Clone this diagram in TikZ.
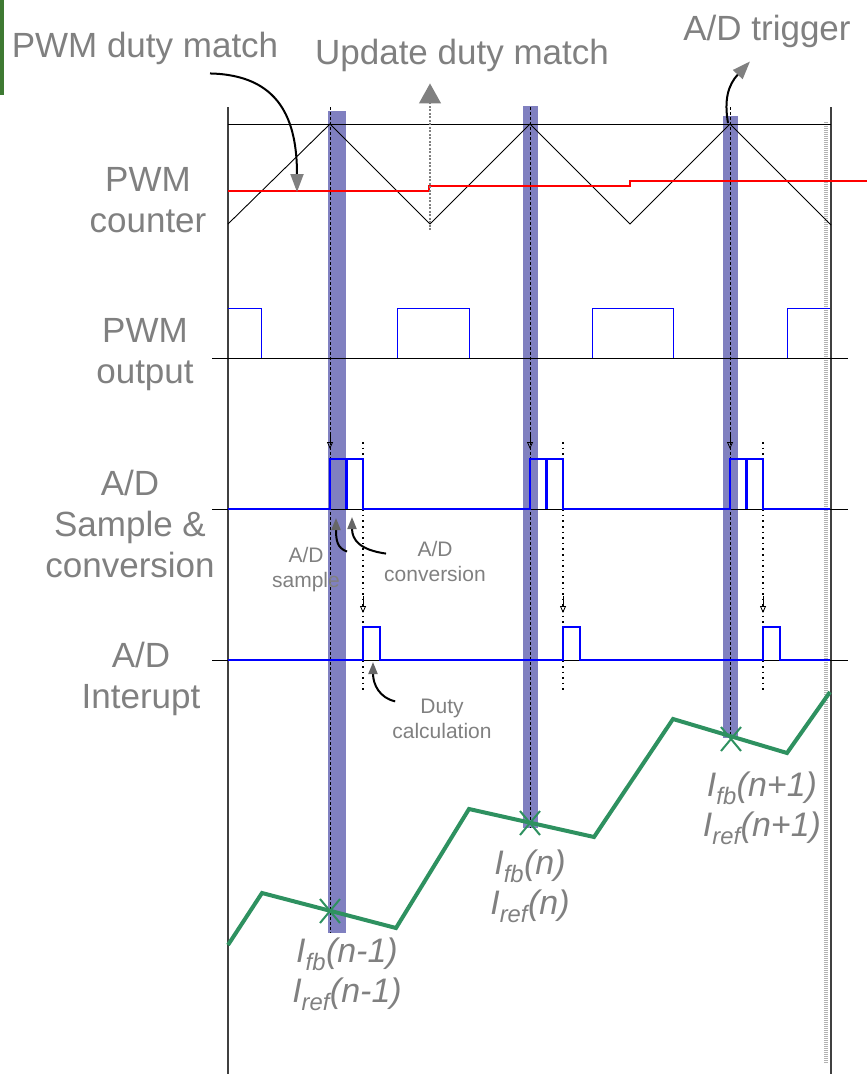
\documentclass[tikz,border=0pt]{standalone}
\usepackage{fontspec}
\setmainfont{Liberation Sans}
\usepackage{tikz}
\usetikzlibrary{calc}
\usetikzlibrary{positioning}
\usetikzlibrary{arrows.meta}
\definecolor{barblue}{RGB}{128,128,192}
\definecolor{txtgray}{RGB}{128,128,128}
\definecolor{currgreen}{RGB}{46,145,96}
\definecolor{tabgreen}{RGB}{62,122,50}

\tikzset{
  biglbl/.style={text=txtgray, inner sep=0pt, align=center,
    font=\fontsize{35}{41}\selectfont},
  smalllbl/.style={text=txtgray, inner sep=0pt, align=center,
    font=\fontsize{21}{25}\selectfont},
  currlbl/.style={text=txtgray, inner sep=0pt, align=center,
    font=\fontsize{34}{40}\selectfont\itshape},
  axisline/.style={draw=black!75, line width=1.2pt},
  thinline/.style={draw=black, line width=0.9pt},
  pwmsig/.style={draw=blue, line width=1pt},
  adsig/.style={draw=blue, line width=2.6pt},
  trigline/.style={draw=black, line width=0.8pt, dash pattern=on 3pt off 2pt},
  doneline/.style={draw=black, line width=1.6pt, dash pattern=on 1.6pt off 4pt},
  trigtip/.style={draw=black, line width=0.8pt, -{Triangle[open, length=7pt, width=6pt]}},
  notearrow/.style={draw=black, line width=2pt, -{Triangle[color=txtgray, length=18pt, width=13pt]}},
  smallnote/.style={draw=black, line width=2pt, -{Triangle[color=txtgray!80!black, length=12pt, width=9pt]}},
  updarrow/.style={draw=txtgray, line width=1.2pt, dash pattern=on 2pt off 1.5pt, -{Triangle[color=txtgray, length=20pt, width=22pt]}},
  currline/.style={draw=currgreen, line width=4pt},
  sampmark/.style={draw=currgreen, line width=2pt},
}

\begin{document}
\begin{tikzpicture}[x=1pt, y=-1pt]
    \useasboundingbox (0,0) rectangle (867,1074);
    \fill[tabgreen] (0,0) rectangle (4,95);

    \foreach \xl/\xr/\yt/\yb in {328/346/111/933, 523/538/106/828, 723/738/116/738}{
      \fill[barblue] (\xl,\yt) rectangle (\xr,\yb);
    }

    \draw[axisline] (228,107) -- (228,1074);
    \draw[gray!60, line width=4.5pt, dash pattern=on 1pt off 1pt] (826,122) -- (826,1063);
    \draw[axisline] (831,107) -- (831,1074);

    \draw[thinline] (228,124) -- (831,124);
    \coordinate (valley1) at (430,230);
    \draw[thinline] (228,224) -- (330,124) -- (430,224) -- (530,124)
      -- (630,224) -- (730,124) -- (831,225);
    \draw[red, line width=1.3pt] (228,191) -- (429,191) -- (429,186)
      -- (630,186) -- (630,181) -- (867,181);

    \foreach \y in {358,509,660}{
      \draw[thinline] (212,\y) -- (848,\y);
    }
    \draw[pwmsig] (228,308) -- (261,308) -- (261,358);
    \foreach \a/\b in {397/469, 592/673}{
      \draw[pwmsig] (\a,358) -- (\a,308) -- (\b,308) -- (\b,358);
    }
    \draw[pwmsig] (787,358) -- (787,308) -- (830,308);

    \foreach \xs/\yb in {330/933, 530/828, 730/738}{
      \draw[trigline] (\xs,107) -- (\xs,\yb);
      \draw[trigtip] (\xs,432) -- (\xs,449);
      \draw[adsig] (\xs+16.5,459) -- (\xs+16.5,509);
      \draw[doneline] (\xs+33,442) -- (\xs+33,692);
      \draw[trigtip] (\xs+33,596) -- (\xs+33,613);
    }
    \draw[adsig] (228,509) foreach \xs in {330,530,730}{
      -- (\xs,509) -- (\xs,459) -- (\xs+33,459) -- (\xs+33,509) } -- (830,509);
    \draw[adsig] (228,660) foreach \xs in {330,530,730}{
      -- (\xs+33,660) -- (\xs+33,627) -- (\xs+50,627) -- (\xs+50,660) } -- (830,660);

    \draw[currline] (228,945) -- (262,893) -- (396,928) -- (469,809)
      -- (594,837) -- (673,719) -- (787,753) -- (830,692);
    \foreach \x/\y in {330/911, 530/823, 731/739}{
      \draw[sampmark] (\x-10,\y-12) -- (\x+10,\y+12) (\x+10,\y-12) -- (\x-10,\y+12);
    }

    \node[biglbl, anchor=base] (dutymatch) at (145,57) {PWM duty match};
    \node[biglbl, anchor=base] (updmatch) at (462,64) {Update duty match};
    \node[biglbl, anchor=base] (adtrig) at (767,40) {A/D trigger};

    \node[biglbl, anchor=base] (cntlbl) at (148,232) {PWM\\counter};
    \node[biglbl, anchor=base] (outlbl) at (145,383) {PWM\\output};
    \node[biglbl, anchor=base] (adclbl) at (130,577) {A/D\\Sample \&\\conversion};
    \node[biglbl, anchor=base] (intlbl) at (141,708) {A/D\\Interupt};

    \node[smalllbl, anchor=base] (samplbl) at (306,587) {A/D\\sample};
    \node[smalllbl, anchor=base] (convlbl) at (435,581) {A/D\\conversion};
    \node[smalllbl, anchor=base] (calclbl) at (442,738) {Duty\\calculation};

    \node[currlbl, anchor=base] (curr1) at (347,1002) {I\textsubscript{fb}(n-1)\\I\textsubscript{ref}(n-1)};
    \node[currlbl, anchor=base] (curr2) at (530,914) {I\textsubscript{fb}(n)\\I\textsubscript{ref}(n)};
    \node[currlbl, anchor=base] (curr3) at (762,836) {I\textsubscript{fb}(n+1)\\I\textsubscript{ref}(n+1)};

    \draw[notearrow] ($(dutymatch.south)+(65,9)$) .. controls (280,75) and (297,120) .. (297,192);
    \draw[updarrow] (valley1) -- ($(valley1 |- updmatch.south)+(0,12)$);
    \draw[notearrow] (728,123) .. controls (724,100) and (728,85) .. ($(adtrig.south)+(-17,14)$);

    \draw[smallnote] ($(samplbl.north east)+(7,5)$) .. controls (337,548) and (336,540) .. (336,518);
    \draw[smallnote] ($(convlbl.north west)+(2,13)$) .. controls (360,550) and (352,540) .. (352,517);
    \draw[smallnote] ($(calclbl.north west)+(3,3)$) .. controls (380,698) and (373,685) .. (373,662);
  \end{tikzpicture}
\end{document}
